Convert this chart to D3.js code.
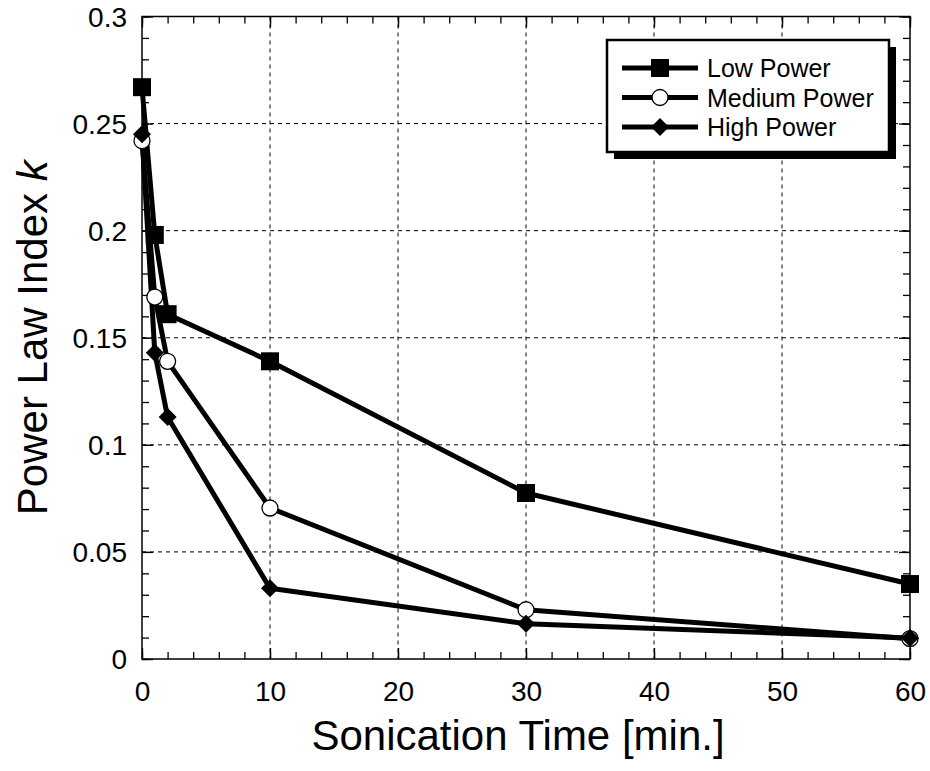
<!DOCTYPE html>
<html>
<head>
<meta charset="utf-8">
<script src="https://cdn.jsdelivr.net/npm/d3@7"></script>
<style>
  body { margin: 0; background: #fff; }
  text { font-family: "Liberation Sans", Arial, sans-serif; fill: #000; }
</style>
</head>
<body>
<script>
const width = 930;
const height = 771;

// sonication time [min.]
const times = [0, 1, 2, 10, 30, 60];
const lowPower = [0.267, 0.198, 0.161, 0.139, 0.0775, 0.035];
const mediumPower = [0.242, 0.169, 0.139, 0.0705, 0.023, 0.0095];
const highPower = [0.245, 0.143, 0.113, 0.033, 0.0165, 0.0098];

const seriesNames = ["Low Power", "Medium Power", "High Power"];
const markers = ["square", "circle", "diamond"];

const xTicks = [0, 10, 20, 30, 40, 50, 60];
const yTicks = [0, 0.05, 0.1, 0.15, 0.2, 0.25, 0.3];
const yTickLabels = ["0", "0.05", "0.1", "0.15", "0.2", "0.25", "0.3"];

const series = [lowPower, mediumPower, highPower].map((vals, i) => ({
  name: seriesNames[i],
  marker: markers[i],
  points: times.map((t, j) => ({ t: t, k: vals[j] }))
}));

const margin = { left: 142, top: 16.5, right: 20, bottom: 112 };
const w = width - margin.left - margin.right;
const h = height - margin.top - margin.bottom;

const svg = d3.select("body")
  .append("svg")
  .attr("width", width)
  .attr("height", height);

const g = svg.append("g")
  .attr("transform", `translate(${margin.left},${margin.top})`);

const x = d3.scaleLinear().domain([0, 60]).range([0, w]);
const y = d3.scaleLinear().domain([0, 0.3]).range([h, 0]);

// grid
g.append("g")
  .selectAll("line")
  .data(xTicks.slice(1, -1))
  .enter()
  .append("line")
  .attr("x1", d => x(d)).attr("x2", d => x(d))
  .attr("y1", 0).attr("y2", h)
  .attr("stroke", "#000")
  .attr("stroke-width", 1)
  .attr("stroke-dasharray", "4,4");

g.append("g")
  .selectAll("line")
  .data(yTicks.slice(1, -1))
  .enter()
  .append("line")
  .attr("x1", 0).attr("x2", w)
  .attr("y1", d => y(d)).attr("y2", d => y(d))
  .attr("stroke", "#000")
  .attr("stroke-width", 1)
  .attr("stroke-dasharray", "4,4");

// minor + major ticks on all four sides (inward)
const xMinor = d3.range(0, 61, 2);
const yMinor = d3.range(0, 31, 1).map(d => d / 100);

function tickAxis(axis, ticks, size) {
  return axis.tickValues(ticks).tickSizeInner(-size).tickSizeOuter(0).tickFormat("");
}

g.append("g").attr("transform", `translate(0,${h})`).call(tickAxis(d3.axisBottom(x), xMinor, 7));
g.append("g").call(tickAxis(d3.axisTop(x), xMinor, 7));
g.append("g").call(tickAxis(d3.axisLeft(y), yMinor, 7));
g.append("g").attr("transform", `translate(${w},0)`).call(tickAxis(d3.axisRight(y), yMinor, 7));
g.append("g").attr("transform", `translate(0,${h})`).call(tickAxis(d3.axisBottom(x), xTicks, 11));
g.append("g").call(tickAxis(d3.axisTop(x), xTicks, 11));
g.append("g").call(tickAxis(d3.axisLeft(y), yTicks, 11));
g.append("g").attr("transform", `translate(${w},0)`).call(tickAxis(d3.axisRight(y), yTicks, 11));

g.selectAll(".domain").remove();
g.selectAll(".tick line").attr("stroke", "#000").attr("stroke-width", 1.3);

// frame
g.append("rect")
  .attr("width", w).attr("height", h)
  .attr("fill", "none")
  .attr("stroke", "#000")
  .attr("stroke-width", 1.5);

// tick labels
const xAxis = g.append("g")
  .attr("transform", `translate(0,${h})`)
  .call(d3.axisBottom(x).tickValues(xTicks).tickSize(0).tickPadding(0).tickFormat(d3.format("d")));
xAxis.select(".domain").remove();
xAxis.selectAll("text")
  .attr("y", 42).attr("dy", null)
  .style("font-size", "28px")
  .style("font-family", "Liberation Sans, Arial, sans-serif");

const yAxis = g.append("g")
  .call(d3.axisLeft(y).tickValues(yTicks).tickSize(0).tickPadding(0).tickFormat((d, i) => yTickLabels[i]));
yAxis.select(".domain").remove();
yAxis.selectAll("text")
  .attr("x", -15).attr("dy", "0.35em")
  .style("font-size", "28px")
  .style("font-family", "Liberation Sans, Arial, sans-serif");

// axis titles
svg.append("text")
  .attr("x", margin.left + w / 2 - 8)
  .attr("y", 750)
  .attr("text-anchor", "middle")
  .style("font-size", "42px")
  .text("Sonication Time [min.]");

const yTitle = svg.append("text")
  .attr("transform", `translate(47,${margin.top + h / 2}) rotate(-90)`)
  .attr("text-anchor", "middle")
  .style("font-size", "42px");
yTitle.append("tspan").text("Power Law Index ");
yTitle.append("tspan").style("font-style", "italic").text("k");

// markers
function drawMarker(sel, type) {
  if (type === "square") {
    sel.append("rect")
      .attr("x", -9).attr("y", -9).attr("width", 18).attr("height", 18)
      .attr("fill", "#000");
  } else if (type === "circle") {
    sel.append("circle")
      .attr("r", 8)
      .attr("fill", "#fff")
      .attr("stroke", "#000")
      .attr("stroke-width", 1.3);
  } else {
    sel.append("path")
      .attr("d", "M0,-9L9,0L0,9L-9,0Z")
      .attr("fill", "#000");
  }
}

const line = d3.line()
  .x(d => x(d.t))
  .y(d => y(d.k));

series.forEach(s => {
  g.append("path")
    .datum(s.points)
    .attr("fill", "none")
    .attr("stroke", "#000")
    .attr("stroke-width", 5)
    .attr("stroke-linejoin", "round")
    .attr("d", line);
});

series.forEach(s => {
  g.append("g")
    .selectAll("g")
    .data(s.points)
    .enter()
    .append("g")
    .attr("transform", d => `translate(${x(d.t)},${y(d.k)})`)
    .each(function () { drawMarker(d3.select(this), s.marker); });
});

// legend
const lg = svg.append("g").attr("transform", "translate(607,40)");
const lw = 282, lh = 112;
lg.append("rect")
  .attr("x", 7).attr("y", 7).attr("width", lw).attr("height", lh)
  .attr("fill", "#000");
lg.append("rect")
  .attr("width", lw).attr("height", lh)
  .attr("fill", "#fff")
  .attr("stroke", "#000")
  .attr("stroke-width", 2.5);

const rows = lg.selectAll("g.row")
  .data(series)
  .enter()
  .append("g")
  .attr("class", "row")
  .attr("transform", (d, i) => `translate(0,${28 + i * 29.5})`);

rows.append("line")
  .attr("x1", 15).attr("x2", 91)
  .attr("stroke", "#000")
  .attr("stroke-width", 5);

rows.append("g")
  .attr("transform", "translate(53,0)")
  .each(function (d) { drawMarker(d3.select(this), d.marker); });

rows.append("text")
  .attr("x", 100)
  .attr("dy", "0.36em")
  .style("font-size", "25px")
  .text(d => d.name);
</script>
</body>
</html>
